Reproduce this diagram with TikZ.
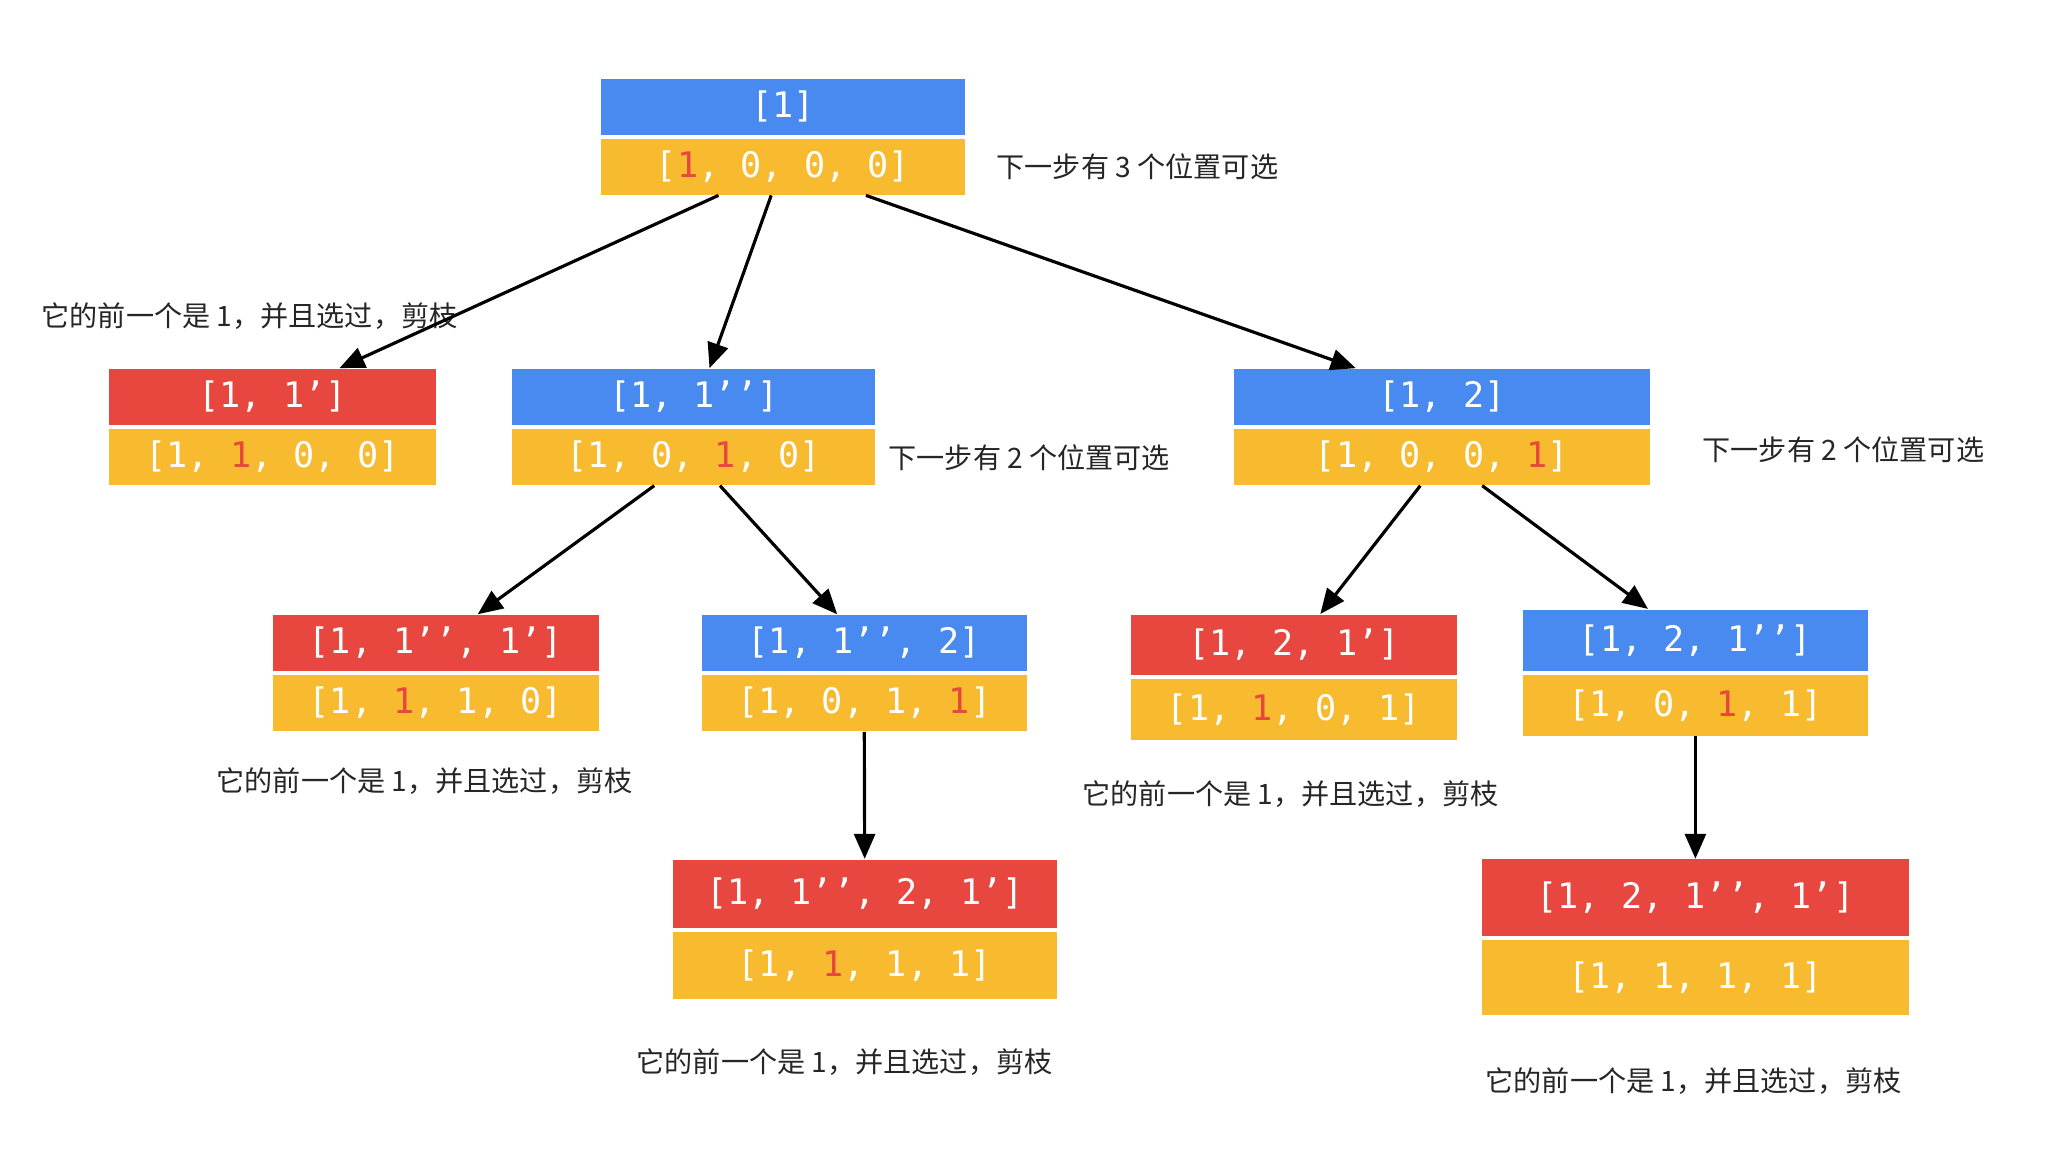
\documentclass[tikz,border=0pt]{standalone}
\usepackage{fontspec}
\usepackage{tikz}
\usetikzlibrary{positioning,arrows.meta,calc}
\newfontfamily\cjk{Noto Sans CJK SC}
\newfontfamily\mono{DejaVu Sans Mono}
\definecolor{tkBlue}{RGB}{72,138,239}
\definecolor{tkRed}{RGB}{231,71,62}
\definecolor{tkYellow}{RGB}{248,186,46}
\newcommand{\pick}[1]{\textcolor{tkRed}{#1}}

\begin{document}
\begin{tikzpicture}[
  x=0.01cm, y=-0.01cm,
  cell/.style={text=white, inner sep=0pt, font=\mono\fontsize{10}{12}\selectfont},
  pth/.style={cell, fill=tkBlue},
  cut/.style={cell, fill=tkRed},
  used/.style={cell, fill=tkYellow},
  note/.style={font=\cjk\fontsize{8}{10}\selectfont, anchor=west, inner sep=0pt, text=black!85},
  arr/.style={-{Triangle[length=0.25cm, width=0.21cm]}, line width=0.9pt},
]
\useasboundingbox (0,0) rectangle (2064,1168);
% root
\node[pth, minimum width=3.63cm, minimum height=0.56cm] (rt) at (783,106.6) {[1]};
\node[used, minimum width=3.63cm, minimum height=0.56cm, below=0.75pt of rt] (rv) {[\pick{1}, 0, 0, 0]};
\node[note] (n0) at (996,167) {下一步有 3 个位置可选};
% level 1
\node[cut, minimum width=3.26cm, minimum height=0.56cm] (at) at (272.5,396.9) {[1, 1’]};
\node[used, minimum width=3.26cm, minimum height=0.56cm, below=0.75pt of at] (av) {[1, \pick{1}, 0, 0]};
\node[note] (n1) at (41,316) {它的前一个是 1，并且选过，剪枝};
\node[pth, minimum width=3.63cm, minimum height=0.56cm] (bt) at (693.7,396.9) {[1, 1’’]};
\node[used, minimum width=3.63cm, minimum height=0.56cm, below=0.75pt of bt] (bv) {[1, 0, \pick{1}, 0]};
\node[note] (n2) at (888,458) {下一步有 2 个位置可选};
\node[pth, minimum width=4.15cm, minimum height=0.56cm] (ct) at (1442,396.9) {[1, 2]};
\node[used, minimum width=4.15cm, minimum height=0.56cm, below=0.75pt of ct] (cv) {[1, 0, 0, \pick{1}]};
\node[note] (n3) at (1702,450) {下一步有 2 个位置可选};
% level 2
\node[cut, minimum width=3.26cm, minimum height=0.56cm] (dt) at (435.7,643) {[1, 1’’, 1’]};
\node[used, minimum width=3.26cm, minimum height=0.56cm, below=0.75pt of dt] (dv) {[1, \pick{1}, 1, 0]};
\node[note] (n4) at (216,781) {它的前一个是 1，并且选过，剪枝};
\node[pth, minimum width=3.25cm, minimum height=0.56cm] (et) at (864.2,643) {[1, 1’’, 2]};
\node[used, minimum width=3.25cm, minimum height=0.56cm, below=0.75pt of et] (ev) {[1, 0, 1, \pick{1}]};
\node[cut, minimum width=3.26cm, minimum height=0.605cm] (ft) at (1293.9,645) {[1, 2, 1’]};
\node[used, minimum width=3.26cm, minimum height=0.605cm, below=0.75pt of ft] (fv) {[1, \pick{1}, 0, 1]};
\node[note] (n5) at (1082,794) {它的前一个是 1，并且选过，剪枝};
\node[pth, minimum width=3.45cm, minimum height=0.615cm] (gt) at (1695.4,640.4) {[1, 2, 1’’]};
\node[used, minimum width=3.45cm, minimum height=0.605cm, below=0.75pt of gt] (gv) {[1, 0, \pick{1}, 1]};
% level 3
\node[cut, minimum width=3.84cm, minimum height=0.685cm] (ht) at (864.8,893.8) {[1, 1’’, 2, 1’]};
\node[used, minimum width=3.84cm, minimum height=0.67cm, below=0.75pt of ht] (hv) {[1, \pick{1}, 1, 1]};
\node[note] (n6) at (636,1062) {它的前一个是 1，并且选过，剪枝};
\node[cut, minimum width=4.26cm, minimum height=0.764cm] (it) at (1695.4,897.7) {[1, 2, 1’’, 1’]};
\node[used, minimum width=4.26cm, minimum height=0.75cm, below=0.75pt of it] (iv) {[1, 1, 1, 1]};
\node[note] (n7) at (1485,1081) {它的前一个是 1，并且选过，剪枝};
% edges
\draw[arr] ($(rv.south)+(-64.5,0)$) -- ($(at.north)+(67,0)$);
\draw[arr] ($(rv.south)+(-11.8,0)$) -- ($(bt.north)+(15.8,0)$);
\draw[arr] ($(rv.south)+(82.9,0)$) -- ($(ct.north)+(-86.2,0)$);
\draw[arr] ($(bv.south)+(-39.5,0)$) -- ($(dt.north)+(42,0)$);
\draw[arr] ($(bv.south)+(26.3,0)$) -- ($(et.north)+(-27,0)$);
\draw[arr] ($(cv.south)+(-21.7,0)$) -- ($(ft.north)+(26.4,0)$);
\draw[arr] ($(cv.south)+(40.2,0)$) -- ($(gt.north)+(-47.4,0)$);
\draw[arr] (ev) -- (ht);
\draw[arr] (gv) -- (it);
\end{tikzpicture}
\end{document}
